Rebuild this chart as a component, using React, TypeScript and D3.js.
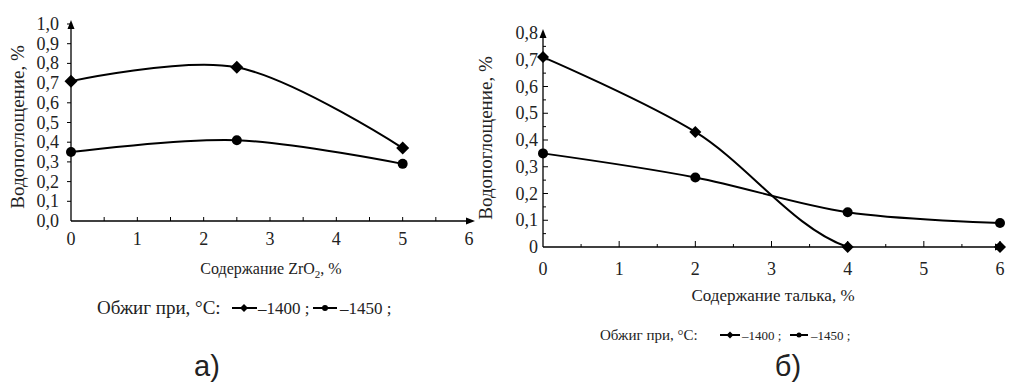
import React from "react";
import * as d3 from "d3";

// ---- Data ----
const zrX = [0, 2.5, 5];
const zr1400 = [0.71, 0.78, 0.37];
const zr1450 = [0.35, 0.41, 0.29];

const talcX = [0, 2, 4, 6];
const talc1400 = [0.71, 0.43, 0.0, 0.0];
const talc1450 = [0.35, 0.26, 0.13, 0.09];

const xTicks = [0, 1, 2, 3, 4, 5, 6];
const leftYTicks = [0, 0.1, 0.2, 0.3, 0.4, 0.5, 0.6, 0.7, 0.8, 0.9, 1.0];
const rightYTicks = [0, 0.1, 0.2, 0.3, 0.4, 0.5, 0.6, 0.7, 0.8];

const yLabel = "Водопоглощение, %";
const legendTitle = "Обжиг при, °С:";
const seriesNames = ["–1400 ;", "–1450 ;"];

const FONT = "Liberation Serif";
const SANS = "Liberation Sans";

const fmtLeft = (v: number) => v.toFixed(1).replace(".", ",");
const fmtRight = (v: number) => (v === 0 ? "0" : v.toFixed(1).replace(".", ","));

function Diamond({ x, y, s }: { x: number; y: number; s: number }) {
  return <path d={`M${x},${y - s} L${x + s},${y} L${x},${y + s} L${x - s},${y} Z`} fill="#000" />;
}

function T(props: any) {
  const { size, family, children, ...rest } = props;
  return (
    <text {...rest} fill="#222" style={{ fontFamily: family || FONT, fontSize: size }}>
      {children}
    </text>
  );
}

function LeftPanel() {
  const x = d3.scaleLinear().domain([0, 6]).range([71, 469]);
  const y = d3.scaleLinear().domain([0, 1]).range([221, 24]);
  const line = d3
    .line<number>()
    .x((_, i) => x(zrX[i]))
    .y((d) => y(d))
    .curve(d3.curveCatmullRom.alpha(0.5));
  const minorX = d3.range(1, 12).map((i) => i * 0.5);
  return (
    <g>
      <line x1={x(0)} y1={y(0)} x2={x(6)} y2={y(0)} stroke="#000" strokeWidth={1.3} />
      <path d={`M${x(6) + 6},${y(0)} L${x(6) - 3},${y(0) - 3.5} L${x(6) - 3},${y(0) + 3.5} Z`} fill="#000" />
      <line x1={x(0)} y1={y(0)} x2={x(0)} y2={y(1) + 2} stroke="#000" strokeWidth={1.3} />
      <path d={`M${x(0)},${y(1) - 4} L${x(0) - 3.5},${y(1) + 5} L${x(0) + 3.5},${y(1) + 5} Z`} fill="#000" />
      {minorX.map((t) => (
        <line key={t} x1={x(t)} x2={x(t)} y1={y(0)} y2={y(0) - 4} stroke="#000" strokeWidth={1} />
      ))}
      {leftYTicks.slice(1).map((t) => (
        <line key={t} x1={x(0) - 4} x2={x(0)} y1={y(t)} y2={y(t)} stroke="#000" strokeWidth={1} />
      ))}
      {xTicks.map((t) => (
        <T key={t} x={x(t)} y={245} textAnchor="middle" size={18}>
          {t}
        </T>
      ))}
      {leftYTicks.map((t) => (
        <T key={t} x={59} y={y(t) + 6} textAnchor="end" size={18}>
          {fmtLeft(t)}
        </T>
      ))}
      <T transform={`translate(24,127) rotate(-90)`} textAnchor="middle" size={19}>
        {yLabel}
      </T>
      <T x={271} y={274} textAnchor="middle" size={16}>
        Содержание ZrO<tspan style={{ fontSize: 11 }} dy={4}>2</tspan>
        <tspan dy={-4}>, %</tspan>
      </T>
      <path d={line(zr1400) || ""} fill="none" stroke="#000" strokeWidth={2} />
      <path d={line(zr1450) || ""} fill="none" stroke="#000" strokeWidth={2} />
      {zr1400.map((v, i) => (
        <Diamond key={i} x={x(zrX[i])} y={y(v)} s={6.5} />
      ))}
      {zr1450.map((v, i) => (
        <circle key={i} cx={x(zrX[i])} cy={y(v)} r={5} fill="#000" />
      ))}
      <T x={97} y={314} size={19}>{legendTitle}</T>
      <line x1={232} x2={257} y1={308} y2={308} stroke="#000" strokeWidth={2} />
      <Diamond x={244} y={308} s={4} />
      <T x={258} y={314} size={17}>{seriesNames[0]}</T>
      <line x1={313} x2={337} y1={308} y2={308} stroke="#000" strokeWidth={2} />
      <circle cx={325} cy={308} r={3} fill="#000" />
      <T x={340} y={314} size={17}>{seriesNames[1]}</T>
      <T x={207} y={376} textAnchor="middle" size={29} family={SANS}>
        а)
      </T>
    </g>
  );
}

function RightPanel() {
  const x = d3.scaleLinear().domain([0, 6]).range([543, 1000]);
  const y = d3.scaleLinear().domain([0, 0.8]).range([247, 33]);
  const line = d3
    .line<number>()
    .x((_, i) => x(talcX[i]))
    .y((d) => y(d))
    .curve(d3.curveCatmullRom.alpha(0.5));
  const minorX = d3.range(1, 13).map((i) => i * 0.5);
  const yTicksAll = d3.range(1, 16).map((i) => i * 0.05);
  return (
    <g>
      <defs>
        <clipPath id="rightPlot">
          <rect x={x(0) - 10} y={y(0.8) - 10} width={x(6) - x(0) + 20} height={y(0) - y(0.8) + 10} />
        </clipPath>
      </defs>
      <path d={line(talc1400) || ""} fill="none" stroke="#000" strokeWidth={2} clipPath="url(#rightPlot)" />
      <path d={line(talc1450) || ""} fill="none" stroke="#000" strokeWidth={2} clipPath="url(#rightPlot)" />
      <line x1={x(0)} y1={y(0)} x2={x(6)} y2={y(0)} stroke="#000" strokeWidth={1.3} />
      <path d={`M${x(6) + 4},${y(0)} L${x(6) - 5},${y(0) - 3.5} L${x(6) - 5},${y(0) + 3.5} Z`} fill="#000" />
      <line x1={x(0)} y1={y(0)} x2={x(0)} y2={y(0.8) + 2} stroke="#000" strokeWidth={1.3} />
      <path d={`M${x(0)},${y(0.8) - 4} L${x(0) - 3.5},${y(0.8) + 5} L${x(0) + 3.5},${y(0.8) + 5} Z`} fill="#000" />
      {minorX.map((t) => (
        <line key={t} x1={x(t)} x2={x(t)} y1={y(0)} y2={y(0) - (Number.isInteger(t) ? 6 : 3)} stroke="#000" strokeWidth={1} />
      ))}
      {yTicksAll.map((t, i) => (
        <line key={t} x1={x(0)} x2={x(0) + (i % 2 === 1 ? 5 : 3)} y1={y(t)} y2={y(t)} stroke="#000" strokeWidth={1} />
      ))}
      {xTicks.map((t) => (
        <T key={t} x={x(t)} y={275} textAnchor="middle" size={18}>
          {t}
        </T>
      ))}
      {rightYTicks.map((t) => (
        <T key={t} x={538} y={y(t) + 6} textAnchor="end" size={18}>
          {fmtRight(t)}
        </T>
      ))}
      <T transform={`translate(492,138) rotate(-90)`} textAnchor="middle" size={19}>
        {yLabel}
      </T>
      <T x={773} y={301} textAnchor="middle" size={17}>
        Содержание талька, %
      </T>
      {talc1400.map((v, i) => (
        <Diamond key={i} x={x(talcX[i])} y={y(v)} s={6} />
      ))}
      {talc1450.map((v, i) => (
        <circle key={i} cx={x(talcX[i])} cy={y(v)} r={5} fill="#000" />
      ))}
      <T x={600} y={340} size={15}>{legendTitle}</T>
      <line x1={720} x2={740} y1={335} y2={335} stroke="#000" strokeWidth={2} />
      <Diamond x={730} y={335} s={3.5} />
      <T x={742} y={340} size={13}>{seriesNames[0]}</T>
      <line x1={790} x2={808} y1={335} y2={335} stroke="#000" strokeWidth={2} />
      <circle cx={799} cy={335} r={2.5} fill="#000" />
      <T x={811} y={340} size={13}>{seriesNames[1]}</T>
      <T x={788} y={376} textAnchor="middle" size={29} family={SANS}>
        б)
      </T>
    </g>
  );
}

export default function App() {
  return (
    <svg width={1009} height={385} style={{ position: "absolute", left: 0, top: 0, background: "#fff" }}>
      <rect width={1009} height={385} fill="#fff" />
      <LeftPanel />
      <RightPanel />
    </svg>
  );
}
